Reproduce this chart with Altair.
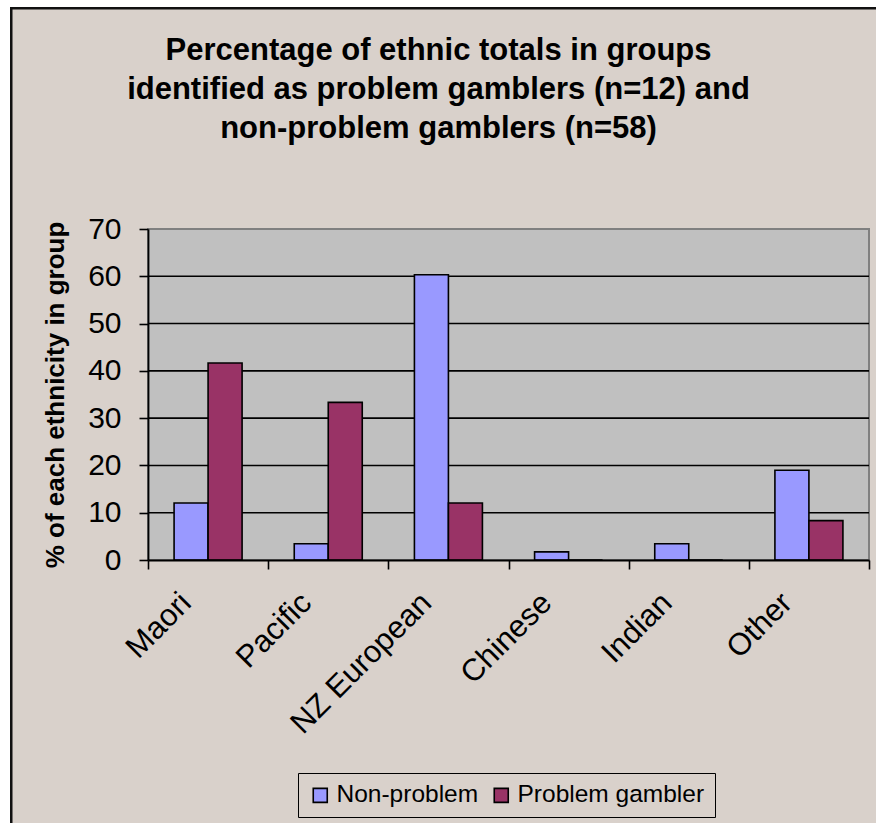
import altair as alt
import pandas as pd

# Ethnic groups and the share (%) of each group within the gambler categories
ethnicities = ["Maori", "Pacific", "NZ European", "Chinese", "Indian", "Other"]
series_names = ["Non-problem", "Problem gambler"]
non_problem = [12.07, 3.45, 60.34, 1.72, 3.45, 18.97]
problem_gambler = [41.67, 33.33, 12.07, 0.0, 0.0, 8.33]
y_ticks = [0, 10, 20, 30, 40, 50, 60, 70]
grid_values = [10, 20, 30, 40, 50, 60]
title_lines = [
    "Percentage of ethnic totals in groups",
    "identified as problem gamblers (n=12) and",
    "non-problem gamblers (n=58)",
]

bar_colors = ["#9999FF", "#993366"]
panel_bg = "#D9D1CB"
plot_bg = "#C0C0C0"
FONT = "Liberation Sans"

W, H = 721, 331
PAD = {"left": 148, "top": 229, "right": 7, "bottom": 263}

rows = []
for i, eth in enumerate(ethnicities):
    rows.append({"ethnicity": eth, "series": series_names[0], "pct": non_problem[i]})
    rows.append({"ethnicity": eth, "series": series_names[1], "pct": problem_gambler[i]})
bars_df = pd.DataFrame(rows)
grid_df = pd.DataFrame({"pct": grid_values})
one = pd.DataFrame({"k": [0]})

y_scale = alt.Scale(domain=[0, 70], nice=False, zero=True)
y_axis = alt.Axis(
    title="% of each ethnicity in group",
    titleFont=FONT,
    titleFontSize=26,
    titleFontWeight="bold",
    titleColor="#000000",
    titlePadding=19,
    values=y_ticks,
    tickSize=9,
    tickWidth=1.6,
    tickColor="#000000",
    domainColor="#000000",
    domainWidth=1.8,
    labelFont=FONT,
    labelFontSize=30,
    labelColor="#000000",
    labelPadding=18,
    grid=False,
    zindex=1,
)

# outer chart panel: tan fill with a dark edge along its top and left sides
far_x = W + PAD["right"] + 60
far_y = H + PAD["bottom"] + 60
left0, top0 = 10 - PAD["left"], 7 - PAD["top"]
frame_fill = alt.Chart(one).mark_rect(fill=panel_bg).encode(
    x=alt.value(left0), x2=alt.value(far_x),
    y=alt.value(top0), y2=alt.value(far_y),
)
frame_top = alt.Chart(one).mark_rect(fill="#111111").encode(
    x=alt.value(left0), x2=alt.value(far_x),
    y=alt.value(top0), y2=alt.value(top0 + 2.5),
)
frame_left = alt.Chart(one).mark_rect(fill="#111111").encode(
    x=alt.value(left0), x2=alt.value(left0 + 2.5),
    y=alt.value(top0), y2=alt.value(far_y),
)

# grey plot area
plot_area = alt.Chart(one).mark_rect(
    fill=plot_bg, stroke="#808080", strokeWidth=2
).encode(
    x=alt.value(0), x2=alt.value(W), y=alt.value(0), y2=alt.value(H)
)

# horizontal gridlines
grid = alt.Chart(grid_df).mark_rule(color="#000000", strokeWidth=1.6).encode(
    y=alt.Y("pct:Q", scale=y_scale, axis=y_axis),
    x=alt.value(0),
    x2=alt.value(W),
)

bars = alt.Chart(bars_df).mark_bar(stroke="#000000", strokeWidth=1.6).encode(
    x=alt.X(
        "ethnicity:N",
        sort=ethnicities,
        scale=alt.Scale(paddingInner=0, paddingOuter=0),
        axis=alt.Axis(
            title=None,
            tickBand="extent",
            tickSize=9,
            tickWidth=1.6,
            tickColor="#000000",
            domainColor="#000000",
            domainWidth=1.8,
            labelAngle=-45,
            labelAlign="right",
            labelBaseline="middle",
            labelFont=FONT,
            labelFontSize=31,
            labelColor="#000000",
            labelPadding=29,
            labelOffset=-22,
            labelLimit=0,
            grid=False,
            zindex=1,
        ),
    ),
    xOffset=alt.XOffset(
        "series:N",
        sort=series_names,
        scale=alt.Scale(paddingInner=0, paddingOuter=0.767),
    ),
    y=alt.Y("pct:Q", scale=y_scale, axis=y_axis),
    color=alt.Color(
        "series:N",
        scale=alt.Scale(domain=series_names, range=bar_colors),
        legend=alt.Legend(
            title=None,
            orient="none",
            legendX=150,
            legendY=544,
            direction="horizontal",
            symbolType="square",
            symbolSize=196,
            symbolStrokeColor="#000000",
            symbolStrokeWidth=1.6,
            symbolOpacity=1,
            labelFont=FONT,
            labelFontSize=24.5,
            labelColor="#000000",
            labelOffset=4,
            labelLimit=0,
            columnPadding=10,
            padding=10,
            strokeColor="#000000",
            fillColor=panel_bg,
        ),
    ),
)

chart = alt.layer(frame_fill, frame_top, frame_left, plot_area, grid, bars).properties(
    width=W,
    height=H,
    padding=PAD,
    autosize=alt.AutoSizeParams(type="none"),
    background="#FFFFFF",
    title=alt.TitleParams(
        text=title_lines,
        font=FONT,
        fontSize=31,
        fontWeight="bold",
        color="#000000",
        anchor="middle",
        frame="group",
        dx=-70,
        dy=148,
        offset=10,
        lineHeight=39,
    ),
).configure_view(stroke=None)

chart.save("out.html", embed_options={"renderer": "svg", "actions": False})
